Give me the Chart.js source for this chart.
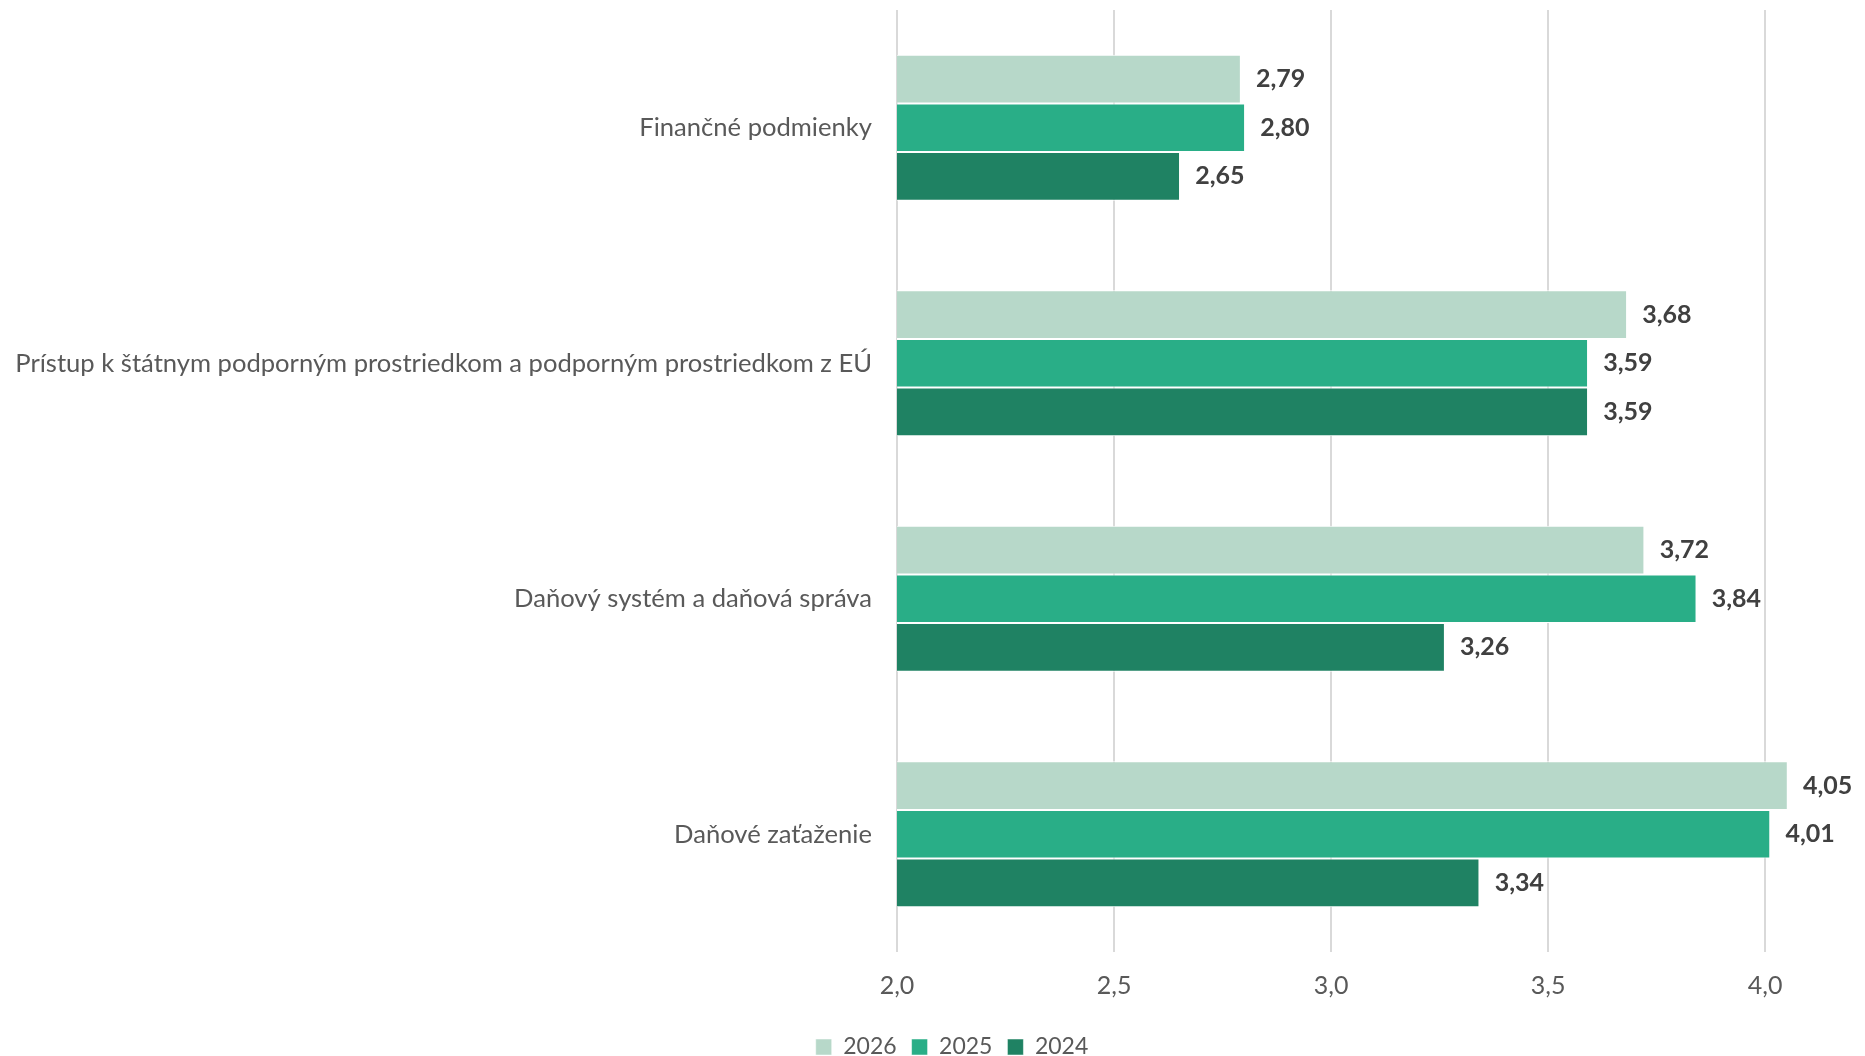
<!DOCTYPE html>
<html>
<head>
<meta charset="utf-8">
<script src="https://cdn.jsdelivr.net/npm/chart.js@4.4.0/dist/chart.umd.min.js"></script>
<style>
html,body{margin:0;padding:0;background:#fff;}
#wrap{width:1865px;height:1056px;position:relative;}
</style>
</head>
<body>
<div id="wrap"><canvas id="c" width="1865" height="1056"></canvas></div>
<script>
const categories = [
  "Finančné podmienky",
  "Prístup k štátnym podporným prostriedkom a podporným prostriedkom z EÚ",
  "Daňový systém a daňová správa",
  "Daňové zaťaženie"
];
const seriesNames = ["2026", "2025", "2024"];
const values2026 = [2.79, 3.68, 3.72, 4.05];
const values2025 = [2.80, 3.59, 3.84, 4.01];
const values2024 = [2.65, 3.59, 3.26, 3.34];
const xTicks = [2.0, 2.5, 3.0, 3.5, 4.0];

const FONT = "Lato";
const colors = ["#b7d8c9", "#29ae87", "#1f8263"];

const dataLabelPlugin = {
  id: 'dataLabels',
  afterDatasetsDraw(chart) {
    const ctx = chart.ctx;
    ctx.save();
    ctx.font = "bold 25px " + FONT;
    ctx.fillStyle = "#404040";
    ctx.textAlign = "left";
    ctx.textBaseline = "middle";
    chart.data.datasets.forEach((ds, i) => {
      const meta = chart.getDatasetMeta(i);
      meta.data.forEach((bar, j) => {
        const v = ds.data[j];
        ctx.fillText(v.toFixed(2).replace('.', ','), bar.x + 16, bar.y);
      });
    });
    ctx.restore();
  }
};

// shift the legend so it is centred a little right of the page centre, as in the original
const legendShiftPlugin = {
  id: 'legendShift',
  afterLayout(chart) {
    if (chart.legend) {
      chart.legend.left += 26;
      chart.legend.right += 26;
    }
  }
};

new Chart(document.getElementById('c'), {
  type: 'bar',
  data: {
    labels: categories,
    datasets: [
      { label: seriesNames[0], data: values2026, backgroundColor: colors[0] },
      { label: seriesNames[1], data: values2025, backgroundColor: colors[1] },
      { label: seriesNames[2], data: values2024, backgroundColor: colors[2] }
    ].map(d => Object.assign(d, { borderColor: '#ffffff', borderWidth: {top: 1, bottom: 1, left: 0, right: 0}, borderSkipped: 'start' }))
  },
  options: {
    indexAxis: 'y',
    responsive: false,
    animation: false,
    devicePixelRatio: 1,
    layout: { padding: { top: 10, right: 13, left: 0, bottom: -12.5 } },
    datasets: { bar: { barPercentage: 1.0, categoryPercentage: 0.62 } },
    scales: {
      x: {
        min: 2.0,
        max: 4.2,
        afterBuildTicks(axis) {
          axis.ticks = xTicks.map(v => ({ value: v }));
        },
        afterFit(scale) { scale.height = 68.5; scale.paddingLeft = 0; scale.paddingRight = 0; },
        grid: { color: '#d9d9d9', lineWidth: 2, drawTicks: false },
        border: { display: false },
        ticks: {
          color: '#595959',
          font: { family: FONT, size: 25 },
          padding: 19,
          callback: v => Number(v).toFixed(1).replace('.', ',')
        }
      },
      y: {
        grid: { display: false, drawTicks: false },
        border: { display: false },
        afterFit(scale) { scale.width = 897; scale.paddingTop = 0; scale.paddingBottom = 0; },
        ticks: {
          color: '#595959',
          font: { family: FONT, size: 25.6 },
          padding: 25
        }
      }
    },
    plugins: {
      legend: {
        position: 'bottom',
        labels: {
          font: { family: FONT, size: 23 },
          color: '#595959',
          boxWidth: 16,
          boxHeight: 16,
          padding: 15
        }
      },
      tooltip: { enabled: false }
    }
  },
  plugins: [dataLabelPlugin, legendShiftPlugin]
});
</script>
</body>
</html>
